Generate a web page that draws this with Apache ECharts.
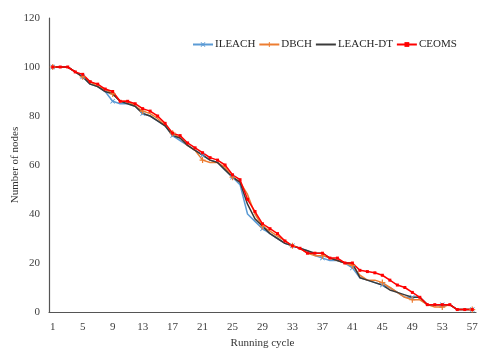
<!DOCTYPE html>
<html>
<head>
<meta charset="utf-8">
<script src="https://cdn.jsdelivr.net/npm/echarts@6/dist/echarts.min.js"></script>
<style>html,body{margin:0;padding:0;background:#fff}#c{width:479px;height:348px}</style>
</head>
<body>
<div id="c"></div>
<script>
const cycles = Array.from({length: 57}, (_, i) => String(i + 1));
const yTicks = [0, 20, 40, 60, 80, 100, 120];
const ILEACH = [100,100,100,98,96,93,92,90,86,85, 85,84,81,80,78,76,72,70,68,66, 64,62,61,58,55,52,40,37,34,32, 30,28,27,26,25,23,22,21,21,20, 18,14,13,12,11,10,8,6,6,6, 3,3,3,3,1,1,1];
const DBCH = [100,100,100,98,96,94,92,91,89,86, 86,84,82,81,79,76,73,71,68,66, 62,61,61,59,55,53,48,40,35,33, 31,29,27,26,24,23,23,22,21,20, 19,15,13,13,12,10,8,6,5,5, 3,2,2,3,1,1,1];
const LEACHDT = [100,100,100,98,96,93,92,90,89,86, 85,84,81,80,78,76,72,71,68,66, 64,62,61,58,55,53,44,38,35,32, 30,28,27,26,25,24,24,22,21,20, 20,14,13,12,11,9,8,7,6,6, 3,3,3,3,1,1,1];
const CEOMS = [100,100,100,98,97,94,93,91,90,86, 86,85,83,82,80,77,73,72,69,67, 65,63,62,60,56,54,46,41,36,34, 32,29,27,26,24,24,24,22,22,20, 20,17,16.5,16,15,13,11,10,8,6, 3,3,3,3,1,1,1];

const font = '"Liberation Serif", "Times New Roman", serif';
const plus = 'path://M4,0 L6,0 L6,4 L10,4 L10,6 L6,6 L6,10 L4,10 L4,6 L0,6 L0,4 L4,4 Z';
const cross = 'path://M1,0 L5,3.6 L9,0 L10,1 L6.4,5 L10,9 L9,10 L5,6.4 L1,10 L0,9 L3.6,5 L0,1 Z';

const chart = echarts.init(document.getElementById('c'), null, {renderer: 'canvas'});
function s(name, data, color, symbol, size) {
  return {
    name, type: 'line', data,
    symbol: symbol || 'none', symbolSize: size || 5, showSymbol: !!symbol,
    lineStyle: {color, width: 1.5},
    itemStyle: {color},
    emphasis: {disabled: true},
    animation: false
  };
}
chart.setOption({
  animation: false,
  textStyle: {fontFamily: font},
  legend: {
    top: 39, left: 192, width: 287, padding: 0,
    itemWidth: 20, itemHeight: 6, itemGap: 3,
    textStyle: {fontFamily: font, fontSize: 11, color: '#262626', padding: [0, 0, 0, -3]},
    data: ['ILEACH', 'DBCH', {name: 'LEACH-DT', itemStyle: {opacity: 0}}, 'CEOMS']
  },
  grid: {left: 49, right: 3, top: 18, bottom: 36, outerBoundsMode: 'none', containLabel: false},
  xAxis: {
    type: 'category', data: cycles, boundaryGap: true,
    name: 'Running cycle', nameLocation: 'middle', nameGap: 26, nameMoveOverlap: false,
    nameTextStyle: {fontFamily: font, fontSize: 11, color: '#333'},
    axisLine: {lineStyle: {color: '#555', width: 1.2}},
    axisTick: {show: false},
    axisLabel: {interval: 3, fontFamily: font, fontSize: 11, color: '#404040', margin: 10}
  },
  yAxis: {
    type: 'value', min: yTicks[0], max: yTicks[yTicks.length - 1], interval: 20,
    name: 'Number of nodes', nameLocation: 'middle', nameGap: 28, nameMoveOverlap: false,
    nameTextStyle: {fontFamily: font, fontSize: 11, color: '#333'},
    axisLine: {show: true, lineStyle: {color: '#555', width: 1.2}},
    axisTick: {show: false},
    splitLine: {show: false},
    axisLabel: {fontFamily: font, fontSize: 11, color: '#404040', margin: 9}
  },
  series: [
    s('ILEACH', ILEACH, '#5B9BD5', cross, 5),
    s('DBCH', DBCH, '#ED7D31', plus, 6),
    s('LEACH-DT', LEACHDT, '#3a3a3a', null),
    s('CEOMS', CEOMS, '#FF0000', 'rect', 3)
  ]
});
</script>
</body>
</html>
